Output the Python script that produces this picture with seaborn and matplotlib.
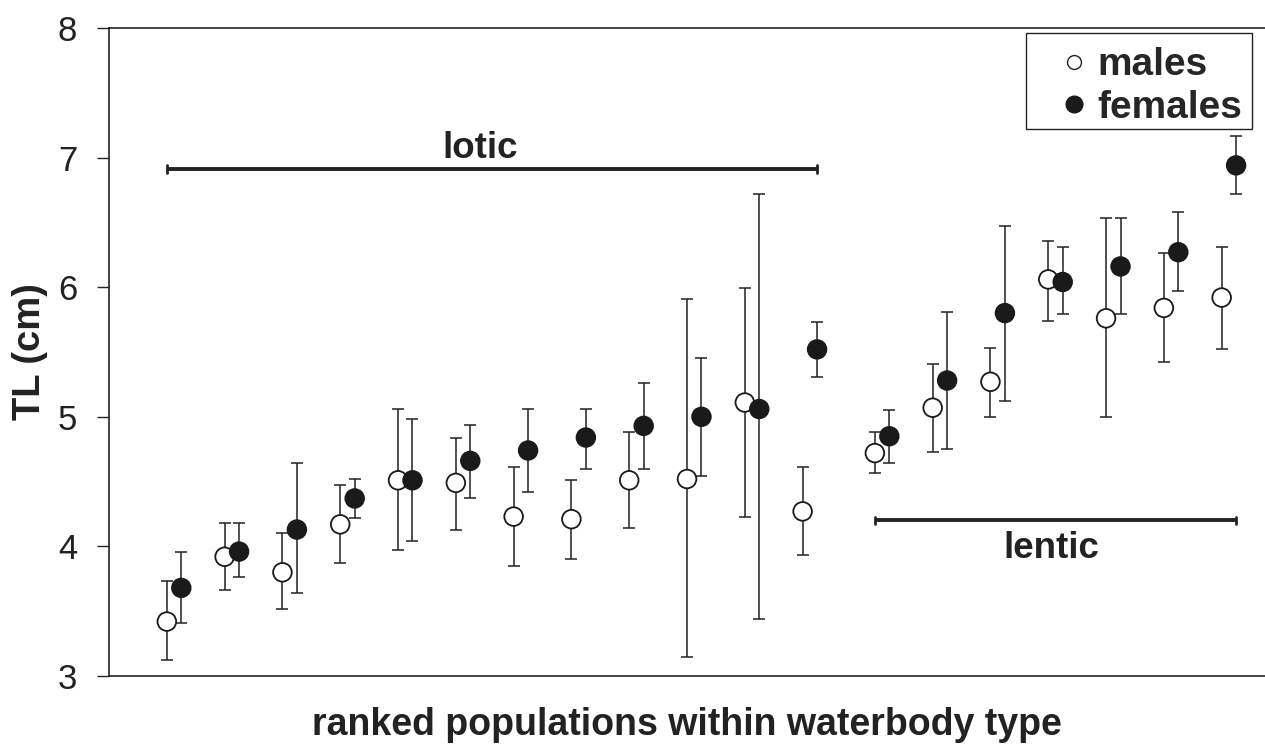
import numpy as np
import matplotlib
matplotlib.use("Agg")
import matplotlib.pyplot as plt
import seaborn as sns
import pandas as pd
from matplotlib.lines import Line2D
from matplotlib.patches import Rectangle

# rank positions (lotic 1-12, lentic shifted by a small gap)
pos = [1, 2, 3, 4, 5, 6, 7, 8, 9, 10, 11, 12,
       13.25, 14.25, 15.25, 16.25, 17.25, 18.25, 19.25]
female_shift = 0.25

male_mean = [3.42, 3.92, 3.80, 4.17, 4.51, 4.49, 4.23, 4.21, 4.51, 4.52, 5.11, 4.27,
             4.72, 5.07, 5.27, 6.06, 5.76, 5.84, 5.92]
male_hi = [3.73, 4.18, 4.10, 4.47, 5.06, 4.84, 4.61, 4.51, 4.88, 5.91, 5.99, 4.61,
           4.88, 5.41, 5.53, 6.36, 6.53, 6.26, 6.31]
male_lo = [3.12, 3.66, 3.52, 3.87, 3.97, 4.13, 3.85, 3.90, 4.14, 3.15, 4.23, 3.93,
           4.57, 4.73, 5.00, 5.74, 5.00, 5.42, 5.52]

female_mean = [3.68, 3.96, 4.13, 4.37, 4.51, 4.66, 4.74, 4.84, 4.93, 5.00, 5.06, 5.52,
               4.85, 5.28, 5.80, 6.04, 6.16, 6.27, 6.94]
female_hi = [3.96, 4.18, 4.64, 4.52, 4.98, 4.94, 5.06, 5.06, 5.26, 5.45, 6.72, 5.73,
             5.05, 5.81, 6.47, 6.31, 6.53, 6.58, 7.17]
female_lo = [3.41, 3.76, 3.64, 4.22, 4.04, 4.37, 4.42, 4.60, 4.60, 4.54, 3.44, 5.31,
             4.64, 4.75, 5.12, 5.79, 5.79, 5.97, 6.72]

# waterbody groups: bar start, bar end, bar level, label x, label y
groups = {"lotic": (1, 12.25, 6.91, 6.42, 7.07),
          "lentic": (13.25, 19.5, 4.20, 16.3, 3.98)}

sns.set_style("ticks")
plt.rcParams['font.family'] = ['Liberation Sans', 'DejaVu Sans']

df = pd.DataFrame({
    "x": list(pos) + [p + female_shift for p in pos],
    "TL": male_mean + female_mean,
    "lo": male_lo + female_lo,
    "hi": male_hi + female_hi,
    "sex": ["males"] * len(pos) + ["females"] * len(pos),
})

fig = plt.figure(figsize=(12.65, 7.44), dpi=100)
ax = fig.add_axes([0.0862, 0.0914, 0.9138, 0.871])

# error bars
yerr = np.vstack([df["TL"] - df["lo"], df["hi"] - df["TL"]])
ax.errorbar(df["x"], df["TL"], yerr=yerr, fmt="none", ecolor="#222222",
            elinewidth=1.1, capsize=4, capthick=1.1, zorder=1)

sns.scatterplot(data=df, x="x", y="TL", hue="sex",
                palette={"males": "white", "females": "#1a1a1a"},
                edgecolor="#1a1a1a", linewidth=1.3, s=180, ax=ax,
                legend=False, zorder=3)

# waterbody group bars
for name, (x0, x1, yb, xt, yt) in groups.items():
    ax.plot([x0, x1], [yb, yb], color="#222222", lw=2.8, solid_capstyle="butt")
    ax.plot([x0, x0], [yb - 0.03, yb + 0.03], color="#222222", lw=2)
    ax.plot([x1, x1], [yb - 0.03, yb + 0.03], color="#222222", lw=2)
    ax.text(xt, yt, name, ha="center", va="center",
            fontsize=26.5, fontweight="bold", color="#222222")

ax.set_xlim(0, 20)
ax.set_ylim(3, 8)
ax.set_yticks([3, 4, 5, 6, 7, 8])
ax.set_xticks([])
ax.tick_params(axis="y", direction="out", length=9, width=1, labelsize=25,
               colors="#222222", pad=14)
ax.spines["right"].set_visible(False)
for s in ["left", "bottom", "top"]:
    ax.spines[s].set_linewidth(1.2)
    ax.spines[s].set_color("#222222")

ax.set_xlabel("ranked populations within waterbody type", fontsize=27,
              fontweight="bold", color="#222222", labelpad=22)
ax.set_ylabel("TL (cm)", fontsize=27.5, fontweight="bold", color="#222222",
              labelpad=7)

handles = [
    Line2D([], [], marker="o", ls="none", mfc="white", mec="#222222", ms=10, mew=1),
    Line2D([], [], marker="o", ls="none", mfc="#1a1a1a", mec="#1a1a1a", ms=12),
]
leg = ax.legend(handles, ["males", "females"], loc="upper left",
                bbox_to_anchor=(0.821, 0.970), frameon=False,
                prop={"size": 28, "weight": "bold"}, handletextpad=0.2,
                handlelength=0.8, borderpad=0, labelspacing=0.17,
                borderaxespad=0)
# legend box
ax.add_patch(Rectangle((0.793, 0.844), 0.196, 0.148, transform=ax.transAxes,
                       fill=False, edgecolor="#222222", lw=1, zorder=5))

fig.savefig("out.png", dpi=100)
